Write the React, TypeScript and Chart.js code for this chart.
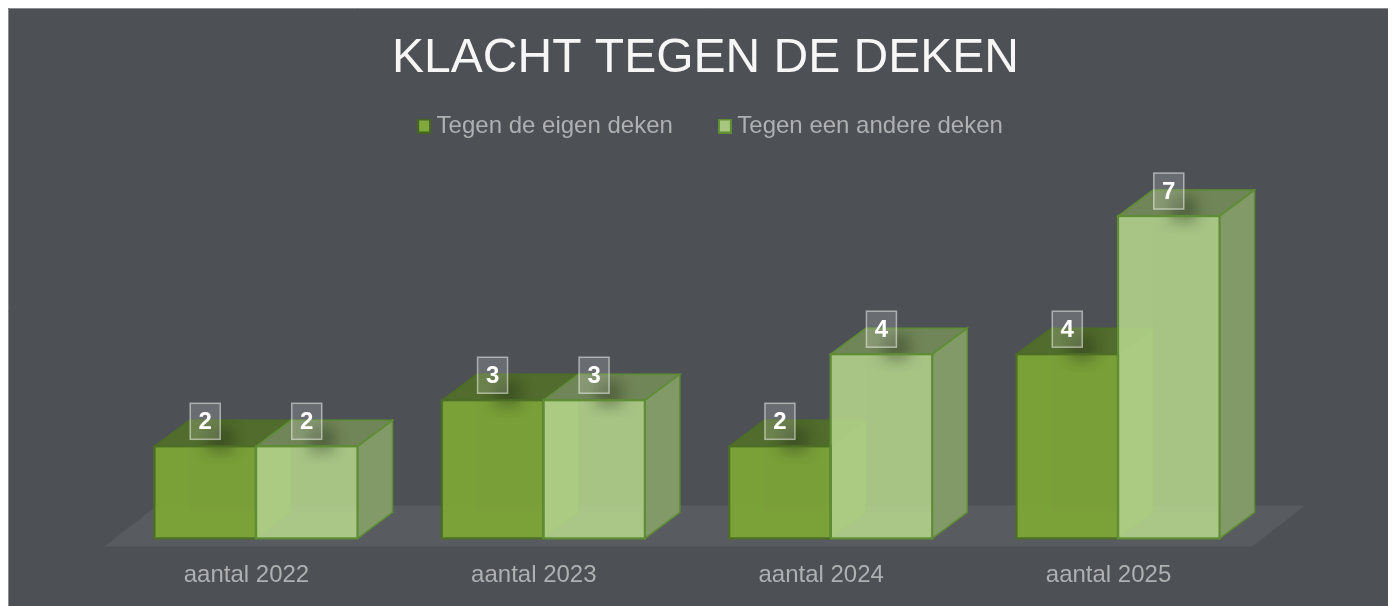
import React, { useEffect, useRef } from "react";
import { Chart, registerables } from "chart.js";

Chart.register(...registerables);

const categories = ["aantal 2022", "aantal 2023", "aantal 2024", "aantal 2025"];
const ownBlanket = [2, 3, 2, 4];
const otherBlanket = [2, 3, 4, 7];
const seriesNames = ["Tegen de eigen deken", "Tegen een andere deken"];
const titleText = "KLACHT TEGEN DE DEKEN";

const BG = "#4d5055";
const FLOOR = "#585b60";
const TEXT = "#aeb0b2";
const DX = 35;
const DY = 26;

const looks = [
  { front: "rgba(127,170,52,0.88)", top: "#516c2c", side: "#5f8034", edge: "#4c6e25", keyEdge: "#46661f", inner: "rgba(150,200,70,0.12)", key: "#7fa93c" },
  { front: "rgba(180,212,140,0.88)", top: "#718658", side: "#829a68", edge: "#5f8d34", keyEdge: "#5f8d34", inner: "rgba(190,230,130,0.10)", key: "#a6c780" },
];

function keyIcon(i: number) {
  const c = document.createElement("canvas");
  c.width = 14;
  c.height = 15;
  const g = c.getContext("2d")!;
  g.fillStyle = looks[i].keyEdge;
  g.fillRect(0, 0, 14, 15);
  g.fillStyle = looks[i].key;
  g.fillRect(2, 2, 10, 11);
  return c;
}

function poly(ctx: CanvasRenderingContext2D, pts: number[][]) {
  ctx.beginPath();
  pts.forEach((p, i) => (i ? ctx.lineTo(p[0], p[1]) : ctx.moveTo(p[0], p[1])));
  ctx.closePath();
}

const boxFor = (chart: any, ds: number, i: number) => {
  const el = chart.getDatasetMeta(ds).data[i];
  return { l: el.x - el.width / 2, r: el.x + el.width / 2, t: el.y, b: el.base, cx: el.x };
};

function shifted(box: any, ctx: CanvasRenderingContext2D, dx: number) {
  const draw = box.draw;
  box.draw = function (...a: any[]) {
    ctx.save();
    ctx.translate(dx, 0);
    draw.apply(this, a);
    ctx.restore();
  };
}

const scene = {
  id: "scene",
  beforeDraw(chart: any) {
    const ctx = chart.ctx as CanvasRenderingContext2D;
    if (!chart.$wrapped) {
      chart.$wrapped = true;
      shifted(chart.titleBlock, ctx, 18.5);
      shifted(chart.legend, ctx, 26.25);
    }
    ctx.save();
    ctx.fillStyle = BG;
    ctx.fillRect(0, 0, chart.width, chart.height);
    ctx.strokeStyle = "#8a8c8e";
    ctx.lineWidth = 1;
    ctx.beginPath();
    ctx.moveTo(0.5, chart.height);
    ctx.lineTo(0.5, 0.5);
    ctx.lineTo(chart.width, 0.5);
    ctx.stroke();
    ctx.restore();
  },
  beforeDatasetsDraw(chart: any) {
    const ctx = chart.ctx as CanvasRenderingContext2D;
    const area = chart.chartArea;
    const base = chart.scales.y.getPixelForValue(0);
    ctx.save();
    ctx.fillStyle = FLOOR;
    poly(ctx, [
      [area.left - 8, base + 8],
      [area.right - 9.5, base + 8],
      [area.right + 43.5, base - 33],
      [area.left + 45, base - 33],
    ]);
    ctx.fill();
    categories.forEach((_, i) => {
      [0, 1].forEach((ds) => {
        const b = boxFor(chart, ds, i);
        const k = looks[ds];
        // inner floor and inner left wall, seen through the translucent front
        ctx.fillStyle = k.inner;
        poly(ctx, [[b.l, b.b], [b.r, b.b], [b.r + DX, b.b - DY], [b.l + DX, b.b - DY]]);
        ctx.fill();
        poly(ctx, [[b.l, b.b], [b.l, b.t], [b.l + DX, b.t - DY], [b.l + DX, b.b - DY]]);
        ctx.fill();
        ctx.fillStyle = k.side;
        poly(ctx, [[b.r, b.t], [b.r + DX, b.t - DY], [b.r + DX, b.b - DY], [b.r, b.b]]);
        ctx.fill();
        ctx.fillStyle = k.top;
        poly(ctx, [[b.l, b.t], [b.r, b.t], [b.r + DX, b.t - DY], [b.l + DX, b.t - DY]]);
        ctx.fill();
        ctx.strokeStyle = k.edge;
        ctx.lineWidth = 1.5;
        poly(ctx, [[b.l, b.t], [b.l + DX, b.t - DY], [b.r + DX, b.t - DY], [b.r, b.t]]);
        ctx.stroke();
        poly(ctx, [[b.r, b.t], [b.r + DX, b.t - DY], [b.r + DX, b.b - DY], [b.r, b.b]]);
        ctx.stroke();
      });
    });
    ctx.restore();
  },
  afterDatasetsDraw(chart: any) {
    const ctx = chart.ctx as CanvasRenderingContext2D;
    ctx.save();
    // soft shadow cast by each value label
    categories.forEach((_, i) => {
      [0, 1].forEach((ds) => {
        const b = boxFor(chart, ds, i);
        ctx.save();
        ctx.beginPath();
        ctx.rect(b.l, b.t - DY, b.r - b.l + DX, 44);
        ctx.clip();
        ctx.shadowColor = "rgba(30,40,20,0.36)";
        ctx.shadowBlur = 14;
        ctx.shadowOffsetX = 5000 + 16;
        ctx.shadowOffsetY = 8;
        ctx.fillStyle = "#000";
        ctx.fillRect(b.cx - 14 - 5000, b.t - 28, 26, 26);
        ctx.restore();
      });
    });
    // front edges
    ctx.lineJoin = "miter";
    categories.forEach((_, i) => {
      [0, 1].forEach((ds) => {
        const b = boxFor(chart, ds, i);
        ctx.strokeStyle = looks[ds].edge;
        ctx.lineWidth = 2.2;
        ctx.strokeRect(b.l, b.t, b.r - b.l, b.b - b.t);
      });
    });
    // value labels
    ctx.textAlign = "center";
    ctx.textBaseline = "middle";
    [ownBlanket, otherBlanket].forEach((vals, ds) => {
      vals.forEach((v, i) => {
        const b = boxFor(chart, ds, i);
        const y = b.t - 25;
        ctx.fillStyle = "rgba(255,255,255,0.16)";
        ctx.fillRect(b.cx - 15, y - 18, 30, 36);
        ctx.strokeStyle = "rgba(255,255,255,0.5)";
        ctx.lineWidth = 1.5;
        ctx.strokeRect(b.cx - 15, y - 18, 30, 36);
        ctx.fillStyle = "#ffffff";
        ctx.font = "bold 24px 'Liberation Sans'";
        ctx.fillText(String(v), b.cx, y + 1);
      });
    });
    ctx.restore();
  },
};

export default function App() {
  const ref = useRef<HTMLCanvasElement>(null);
  useEffect(() => {
    document.documentElement.style.overflow = "hidden";
    const chart = new Chart(ref.current!, {
      type: "bar",
      data: {
        labels: categories,
        datasets: [
          { label: seriesNames[0], data: ownBlanket, backgroundColor: looks[0].front, borderWidth: 0 },
          { label: seriesNames[1], data: otherBlanket, backgroundColor: looks[1].front, borderWidth: 0 },
        ],
      },
      options: {
        responsive: false,
        animation: false,
        layout: { padding: { left: 104.3, right: 142.3, top: 0, bottom: 2 } },
        datasets: { bar: { barPercentage: 1, categoryPercentage: 0.7065 } },
        scales: {
          x: {
            grid: { display: false, drawTicks: false },
            border: { display: false },
            ticks: {
              color: TEXT,
              font: { family: "'Liberation Sans'", size: 24 },
              padding: 22.4,
              labelOffset: -9.5,
              maxRotation: 0,
              autoSkip: false,
            },
          },
          y: { display: false, min: 0, max: 8.478 },
        },
        plugins: {
          tooltip: { enabled: false },
          title: {
            display: true,
            text: titleText,
            color: "#f6f6f6",
            font: { family: "'Liberation Sans'", size: 48, weight: "normal" },
            padding: { top: 22.2, bottom: -25.3 },
          },
          legend: {
            display: true,
            position: "top",
            labels: {
              color: TEXT,
              font: { family: "'Liberation Sans'", size: 24 },
              padding: 51.5,
              usePointStyle: true,
              pointStyleWidth: 1,
              generateLabels: () =>
                seriesNames.map((text, i) => ({
                  text,
                  fontColor: TEXT,
                  pointStyle: keyIcon(i),
                  datasetIndex: i,
                })),
            },
          },
        },
      } as any,
      plugins: [scene as any],
    });
    return () => chart.destroy();
  }, []);
  return <canvas ref={ref} width={1396} height={606} style={{ display: "block" }} />;
}
